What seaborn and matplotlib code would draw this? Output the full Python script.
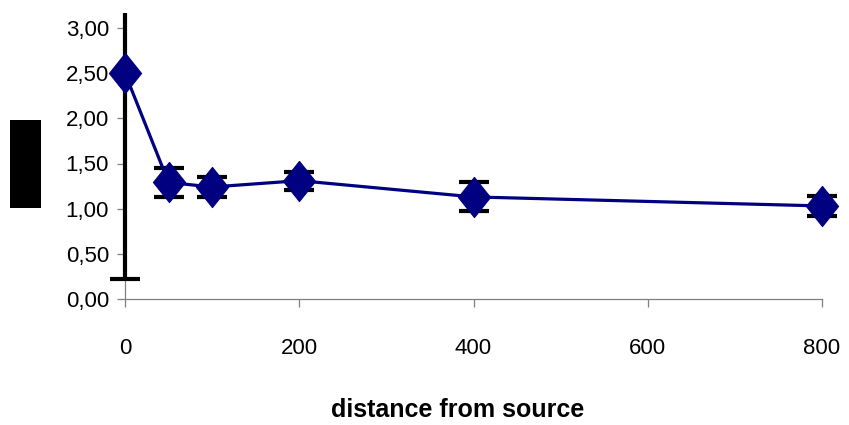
import matplotlib
matplotlib.use("Agg")
import matplotlib.pyplot as plt
import seaborn as sns
import pandas as pd
from matplotlib.patches import Rectangle
from matplotlib.ticker import FuncFormatter

# data
distance = [0, 50, 100, 200, 400, 800]
value = [2.50, 1.29, 1.24, 1.31, 1.13, 1.03]
error = [2.28, 0.16, 0.11, 0.10, 0.16, 0.11]
x_ticks = [0, 200, 400, 600, 800]
y_ticks = [0.0, 0.5, 1.0, 1.5, 2.0, 2.5, 3.0]
x_label = "distance from source"

df = pd.DataFrame({"distance": distance, "value": value, "error": error})

sns.set_style("white")
plt.rcParams['font.family'] = ['Liberation Sans', 'DejaVu Sans']

fig = plt.figure(figsize=(8.49, 4.25), dpi=100)
ax = fig.add_axes([125/849, 126/425, (822-125)/849, (299-13)/425])

navy = "#000080"
grey = "#808080"

# error bars (clipped vertically at the top of the plot area only)
eb = ax.errorbar(df["distance"], df["value"], yerr=df["error"], fmt="none",
                 ecolor="black", elinewidth=3.0, capsize=11, capthick=3.0, zorder=2)
clip_rect = Rectangle((-0.1, -0.2), 1.2, 1.2, transform=ax.transAxes,
                      facecolor="none", edgecolor="none")
for art in list(eb.lines[1]) + list(eb.lines[2]):
    art.set_clip_path(clip_rect)

diamond = [(0, 1), (0.8, 0), (0, -1), (-0.8, 0), (0, 1)]
sns.lineplot(data=df, x="distance", y="value", ax=ax, color=navy, linewidth=2.3,
             marker=diamond, markersize=29, markeredgecolor=navy,
             markerfacecolor=navy, zorder=3, clip_on=False)
for ln in ax.lines:
    ln.set_clip_on(False)

ax.set_xlim(0, 800)
ax.set_ylim(0, 3.0 * (299 - 13) / (299 - 28))
ax.set_xticks(x_ticks)
ax.set_yticks(y_ticks)
ax.yaxis.set_major_formatter(FuncFormatter(lambda v, p: f"{v:.2f}".replace(".", ",")))

for side in ["top", "right"]:
    ax.spines[side].set_visible(False)
ax.spines["left"].set_bounds(0, 3.0)
for side in ["left", "bottom"]:
    ax.spines[side].set_color(grey)
    ax.spines[side].set_linewidth(0.9)
    ax.spines[side].set_zorder(1)

ax.tick_params(axis="y", direction="out", length=5.5, width=0.9, color=grey,
               labelsize=16, pad=6, left=True, labelcolor="black")
ax.tick_params(axis="x", direction="out", length=6, width=0.9, color=grey,
               labelsize=16, pad=22, bottom=True, labelcolor="black")

ax.set_xlabel(x_label, fontsize=18, fontweight="bold", color="black")
ax.xaxis.set_label_coords((458 - 125) / (822 - 125), -(410 - 299) / (299 - 13))
ax.xaxis.label.set_va("center")
ax.set_ylabel("")

# black block where the y-axis title sits in the reference
fig.patches.append(Rectangle((10/849, (425-208)/425), 31/849, 88/425,
                             transform=fig.transFigure, facecolor="black",
                             edgecolor="none"))

fig.savefig("out.png", dpi=100)
